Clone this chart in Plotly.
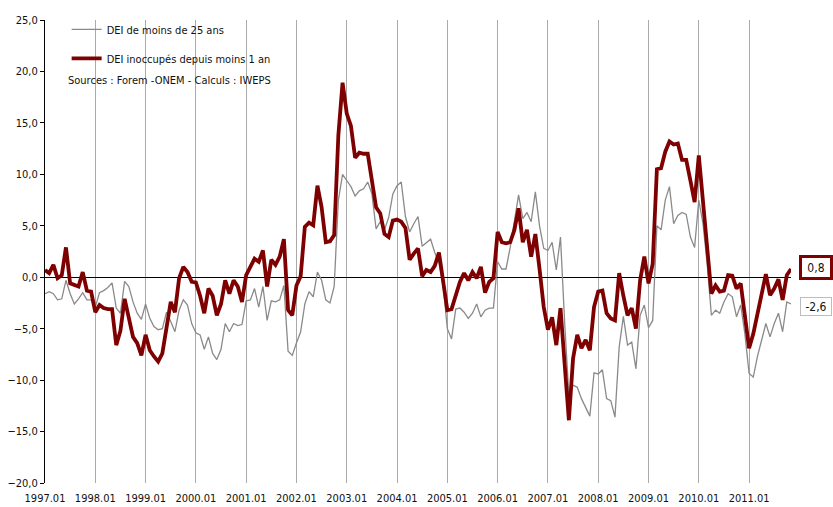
import plotly.graph_objects as go

# Monthly categories 1997.01 .. 2011.11
months = [f"{y}.{m:02d}" for y in range(1997, 2012) for m in range(1, 13)][:179]
year_ticks = [f"{y}.01" for y in range(1997, 2012)]

# DEI inoccupés depuis moins 1 an (red)
dei_moins_1an = [
    0.7, 0.4, 1.2, -0.1, 0.2, 2.9, -0.6, -0.8, -0.9, 0.5, -1.3, -1.4,
    -3.4, -2.7, -3.0, -3.1, -3.1, -6.6, -5.2, -2.1, -4.0, -5.8, -6.4, -7.6,
    -5.6, -7.1, -7.7, -8.2, -7.4, -4.8, -2.4, -3.4, -0.1, 1.0, 0.5, -0.45,
    -0.5, -1.8, -3.5, -1.1, -1.8, -3.7, -2.6, -0.3, -1.6, -0.3, -0.9, -2.4,
    0.2, 1.0, 1.8, 1.5, 2.6, -0.9, 1.7, 1.2, 2.0, 3.7, -3.2, -3.7,
    -0.8, 0.1, 4.9, 5.3, 5.05, 8.9, 6.8, 3.4, 3.5, 4.1, 13.8, 18.9,
    15.9, 14.7, 11.6, 12.1, 12.0, 12.0, 9.3, 6.8, 6.2, 4.2, 3.9, 5.5,
    5.6, 5.4, 4.8, 1.7, 2.3, 2.8, 0.1, 0.7, 0.5, 1.1, 2.4, -0.6,
    -3.2, -3.1, -1.9, -0.45, 0.4, -0.3, 0.5, -0.1, 1.0, -1.5, -0.45, -0.1,
    4.4, 3.4, 3.3, 3.4, 4.6, 6.7, 3.4, 4.6, 2.0, 4.2, 0.8, -2.9,
    -5.1, -3.9, -6.6, -3.0, -8.5, -13.9, -7.9, -5.6, -6.9, -6.1, -7.1, -2.9,
    -1.4, -1.3, -3.5, -4.0, -4.2, 0.4, -1.8, -3.7, -3.0, -5.0, -0.3, 2.0,
    -0.6, 1.3, 10.5, 10.6, 12.2, 13.2, 12.9, 13.0, 11.4, 11.4, 9.4, 7.3,
    11.85, 7.5, 3.0, -1.6, -0.8, -1.4, -1.3, 0.2, 0.15, -1.1, -0.6, -3.5,
    -6.9, -5.5, -3.7, -1.9, 0.3, -1.75, -1.1, -0.2, -2.2, 0.2, 0.8,
]

# DEI de moins de 25 ans (grey)
dei_moins_25 = [
    -1.6, -1.4, -1.6, -2.2, -2.1, -0.3, -1.6, -2.6, -2.1, -1.5, -2.2, -2.2,
    -2.9, -1.5, -1.3, -1.0, -0.55, -3.0, -3.5, -0.4, -0.9, -2.4, -3.5, -4.1,
    -2.6, -4.0, -4.8, -5.1, -5.0, -3.4, -4.3, -5.3, -3.2, -2.2, -2.7, -4.5,
    -5.4, -5.6, -7.0, -5.8, -7.4, -8.0, -7.0, -4.5, -5.3, -4.5, -4.7, -4.6,
    -2.3, -2.2, -1.1, -2.9, -0.9, -4.2, -2.3, -2.4, -2.2, -0.8, -7.2, -7.6,
    -6.4, -5.3, -2.6, -1.4, -1.9, 0.5, -0.3, -2.2, -2.5, -0.9, 7.5, 10.0,
    9.4, 8.8, 7.9, 8.4, 8.6, 9.25, 8.1, 4.7, 5.4, 4.6, 5.8, 8.1,
    8.9, 9.25, 5.9, 4.4, 5.2, 5.9, 3.0, 3.4, 3.7, 2.4, 1.4, -0.8,
    -5.0, -6.0, -3.1, -3.0, -3.4, -4.0, -3.5, -2.6, -3.85, -3.2, -3.0, -3.0,
    1.5, 0.8, 0.8, 2.9, 5.4, 8.0, 5.7, 6.3, 5.4, 8.3, 5.0, 2.8,
    2.6, 3.4, 0.7, 3.9, -4.5, -11.5, -10.5, -10.7, -11.8, -12.6, -13.5, -9.3,
    -9.4, -9.0, -11.8, -12.0, -13.6, -6.8, -3.8, -6.6, -6.3, -8.9, -3.7, -2.7,
    -4.9, -4.2, 5.0, 4.6, 7.5, 8.8, 5.2, 6.0, 6.3, 6.1, 3.9, 2.9,
    7.5, 5.2, 1.3, -3.7, -3.2, -3.5, -2.4, -1.6, -1.9, -3.85, -2.7, -5.5,
    -9.35, -9.7, -7.7, -6.1, -4.5, -5.8, -4.5, -3.5, -5.3, -2.4, -2.6,
]

y_ticks = [-20, -15, -10, -5, 0, 5, 10, 15, 20, 25]

RED = "#7f0000"
GREY = "#8a8a8a"
FONT = "Liberation Sans Narrow, Arial Narrow, DejaVu Sans Condensed, sans-serif"
FS = 11

fig = go.Figure()
fig.add_trace(go.Scatter(
    x=months, y=dei_moins_25, mode="lines", name="DEI de moins de 25 ans",
    line=dict(color=GREY, width=1.3), legendgroup="a",
))
fig.add_trace(go.Scatter(
    x=months, y=dei_moins_1an, mode="lines", name="DEI inoccupés depuis moins 1 an",
    line=dict(color=RED, width=3.8), legendgroup="b",
))

def fr(v):
    return f"{v:.1f}".replace(".", ",")

fig.add_annotation(
    xref="paper", yref="y", x=1.0335, y=dei_moins_1an[-1], yshift=1,
    text=fr(dei_moins_1an[-1]), showarrow=False,
    font=dict(family=FONT, size=FS + 1, color="#111"),
    bordercolor=RED, borderwidth=3, borderpad=2, bgcolor="white",
    width=24, height=15, xanchor="center", yanchor="middle",
)
fig.add_annotation(
    xref="paper", yref="y", x=1.0335, y=dei_moins_25[-1], yshift=-3,
    text=fr(dei_moins_25[-1]), showarrow=False,
    font=dict(family=FONT, size=FS + 1, color="#111"),
    bordercolor="#bdbdbd", borderwidth=1, borderpad=1, bgcolor="white",
    width=28, height=15, xanchor="center", yanchor="middle",
)
fig.add_annotation(
    xref="paper", yref="paper", x=0.028, y=0.870,
    text="Sources : Forem -ONEM - Calculs : IWEPS", showarrow=False,
    font=dict(family=FONT, size=FS, color="#111"),
    xanchor="left", yanchor="middle",
)

# white area behind legend / sources (covers gridlines)
fig.add_shape(
    type="rect", xref="paper", yref="paper",
    x0=0.0174, x1=0.332, y0=0.8445, y1=1.0,
    fillcolor="white", line=dict(width=0), layer="between",
)

fig.update_layout(
    width=833, height=507,
    margin=dict(l=45, r=42, t=20, b=24, autoexpand=False),
    plot_bgcolor="white", paper_bgcolor="white",
    separators=", ",
    font=dict(family=FONT, size=FS, color="#111"),
    showlegend=True,
    legend=dict(
        x=0.029, y=1.011, xanchor="left", yanchor="top",
        bgcolor="rgba(0,0,0,0)", font=dict(family=FONT, size=FS, color="#111"),
        tracegroupgap=10, itemwidth=30, traceorder="grouped",
    ),
    xaxis=dict(
        type="category", range=[0, 178], automargin=False,
        tickmode="array", tickvals=year_ticks, ticktext=year_ticks,
        showgrid=True, gridcolor="#aaaaaa", gridwidth=1,
        showline=False, zeroline=False,
        ticks="outside", ticklen=5, tickcolor="rgba(0,0,0,0)",
        tickfont=dict(family=FONT, size=FS, color="#111"),
    ),
    yaxis=dict(
        range=[-20, 25], tickmode="array", tickvals=y_ticks, automargin=False,
        tickformat=".1f", showgrid=False,
        zeroline=True, zerolinecolor="black", zerolinewidth=1,
        showline=True, linecolor="black", linewidth=1,
        ticks="outside", ticklen=4, tickcolor="black",
        tickfont=dict(family=FONT, size=FS, color="#111"),
    ),
)

fig.write_html(
    "out.html",
    config={"displayModeBar": False},
    post_script="document.body.style.margin='0';document.body.style.padding='0';",
)
